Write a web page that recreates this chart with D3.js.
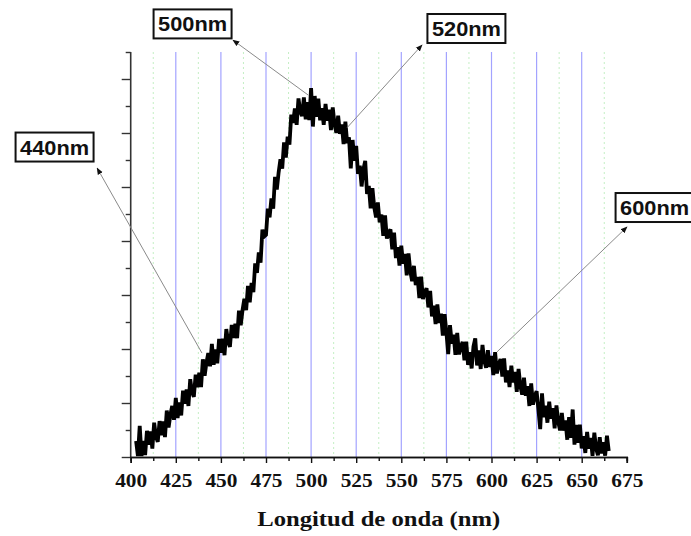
<!DOCTYPE html>
<html>
<head>
<meta charset="utf-8">
<script src="https://cdn.jsdelivr.net/npm/d3@7"></script>
<style>
  html, body { margin: 0; padding: 0; background: #ffffff; }
  svg { display: block; }
</style>
</head>
<body>
<svg id="chart" width="691" height="536"></svg>
<script>
// Emission spectrum: intensity (arb. units) sampled every 1 nm from 403 to 665 nm
const wavelengthStart = 403;
const wavelengthStep = 1;
const intensity = [
  0.59, 0.04, 1.15, 0.04, 0.59, 0.07, 0.97, 0.45,
  0.95, 0.31, 1.27, 0.76, 0.56,
  1.33, 0.81, 1.32, 0.74, 1.72,
  1.09, 1.56, 1.89, 1.38, 2.19,
  1.44, 2.02, 1.54, 2.46, 1.97,
  2.50, 1.89, 2.88, 2.40, 2.23,
  3.05, 2.58, 3.12, 2.59, 3.62,
  3.01, 3.50, 3.85, 3.36, 4.19,
  3.42, 3.98, 3.47, 4.37, 3.86,
  4.38, 3.77, 4.74, 4.26, 4.08,
  4.89, 4.41, 4.94, 4.40, 5.42,
  4.88, 5.44, 5.86, 5.44, 6.34,
  5.73, 6.45, 6.11, 7.17, 6.82,
  7.58, 7.20, 8.42, 8.17, 8.23,
  9.20, 8.88, 9.58, 9.20, 10.38,
  9.91, 10.54, 11.03, 10.68, 11.65,
  11.09, 11.86, 11.57, 12.68, 12.38,
  12.91, 12.30, 13.28, 12.80, 12.63,
  13.32, 12.51, 13.14, 12.48, 13.66,
  12.24, 13.37, 12.60, 13.27, 12.47,
  12.92, 12.30, 13.08, 12.46, 12.86,
  12.11, 12.95, 12.32, 12.01, 12.64,
  11.97, 12.32, 11.59, 12.42, 11.63,
  11.84, 10.69, 11.74, 10.97, 11.52,
  10.49, 10.79, 10.02, 10.66, 10.97,
  9.74, 10.04, 9.21, 9.96, 9.25,
  8.87, 9.43, 8.69, 8.98, 8.19,
  8.95, 8.09, 8.32, 8.43, 7.69,
  8.31, 7.37, 7.77, 7.09, 7.83,
  7.16, 7.52, 6.73, 7.54, 6.88,
  6.51, 7.08, 6.37, 6.67, 5.89,
  6.68, 5.85, 6.11, 6.25, 5.54,
  6.15, 5.21, 5.60, 4.92, 5.65,
  4.97, 5.31, 4.50, 5.29, 4.62,
  3.81, 4.88, 4.20, 4.53, 3.78,
  4.60, 3.80, 4.09, 4.26, 3.58,
  4.27, 3.41, 3.88, 3.28, 4.09,
  4.39, 3.39, 3.95, 3.26, 4.15,
  3.57, 3.30, 3.96, 3.34, 3.74,
  3.03, 3.88, 3.10, 3.43, 3.63,
  2.98, 3.65, 2.76, 3.21, 2.59,
  3.38, 2.76, 3.15, 2.41, 3.26,
  2.63, 2.31, 2.94, 2.27, 2.62,
  1.89, 2.73, 1.94, 2.26, 2.44,
  1.77, 1.03, 2.36, 1.47, 1.90,
  1.27, 2.05, 1.42, 1.81, 1.06,
  1.91, 1.30, 0.99, 1.63, 0.98,
  1.35, 0.64, 1.48, 0.71, 1.76,
  0.46, 1.19, 0.53, 1.20, 0.32,
  0.77, 0.15, 0.93, 0.31, 0.71,
  0.04, 0.90, 0.32, 0.06, 0.73,
  0.13, 0.55, 0.05, 0.79, 0.22
];

// Axis ticks
const xMajorTicks = [400, 425, 450, 475, 500, 525, 550, 575, 600, 625, 650, 675];
const xMinorTicks = [412.5, 437.5, 462.5, 487.5, 512.5, 537.5, 562.5, 587.5, 612.5, 637.5, 662.5];
const xGridMajor = [425, 450, 475, 500, 525, 550, 575, 600, 625, 650];
const yMajorTicks = [0, 2, 4, 6, 8, 10, 12, 14];
const yMinorTicks = [1, 3, 5, 7, 9, 11, 13, 15];
const xTitle = "Longitud de onda (nm)";

// Callout labels: text, point on the curve, label-box centre, arrow tip (all in data units)
const calloutText = ["440nm", "500nm", "520nm", "600nm"];
const calloutPointNm = [439.5, 498.5, 520, 603];
const calloutPointI = [3.85, 13.4, 12.2, 3.89];
const calloutBoxNm = [357.8, 434.3, 586.1, 690.4];
const calloutBoxI = [11.48, 16.04, 15.87, 9.24];
const calloutTipNm = [381.4, 456.7, 561.5, 675.1];
const calloutTipI = [10.70, 15.44, 15.26, 8.52];

const spectrum = intensity.map((v, i) => ({ nm: wavelengthStart + i * wavelengthStep, v }));

const svg = d3.select("#chart");
const x = d3.scaleLinear().domain([400, 675]).range([130.7, 626.8]);
const y = d3.scaleLinear().domain([0, 15]).range([457, 52]);
const serif = "'Liberation Serif', 'Times New Roman', serif";
const sans = "'Liberation Sans', Arial, sans-serif";

// Vertical grid: solid blue at major steps, dotted green at minor steps
const grid = svg.append("g");
grid.selectAll("line.minor").data(xMinorTicks).join("line")
  .attr("class", "minor")
  .attr("x1", d => x(d)).attr("x2", d => x(d))
  .attr("y1", y(15)).attr("y2", y(0))
  .attr("stroke", "#c4efc4").attr("stroke-width", 1)
  .attr("stroke-dasharray", "2,3");
grid.selectAll("line.major").data(xGridMajor).join("line")
  .attr("class", "major")
  .attr("x1", d => x(d)).attr("x2", d => x(d))
  .attr("y1", y(15)).attr("y2", y(0))
  .attr("stroke", "#a3a3ff").attr("stroke-width", 1.2);

// Spectrum trace
svg.append("path")
  .datum(spectrum)
  .attr("fill", "none")
  .attr("stroke", "#000")
  .attr("stroke-width", 3.8)
  .attr("stroke-linejoin", "miter")
  .attr("stroke-miterlimit", 3)
  .attr("d", d3.line().x(d => x(d.nm)).y(d => y(d.v)));

// Y axis (no labels)
const yAxisG = svg.append("g").attr("transform", `translate(${x(400)},0)`);
yAxisG.call(d3.axisLeft(y).tickValues(yMajorTicks).tickSize(9).tickFormat(""));
yAxisG.append("g").call(d3.axisLeft(y).tickValues(yMinorTicks).tickSize(5).tickFormat(""));
yAxisG.selectAll(".domain").remove();
yAxisG.append("line").attr("y1", y(15)).attr("y2", y(0))
  .attr("stroke", "#333").attr("stroke-width", 1.6);
yAxisG.selectAll(".tick line").attr("stroke", "#333").attr("stroke-width", 1.4);

// X axis
const xAxisG = svg.append("g").attr("transform", `translate(0,${y(0)})`);
xAxisG.call(d3.axisBottom(x).tickValues(xMajorTicks).tickSize(6).tickFormat(d3.format("d")));
xAxisG.append("g").call(d3.axisBottom(x).tickValues(xMinorTicks).tickSize(4).tickFormat(""));
xAxisG.selectAll(".domain").attr("stroke", "#111").attr("stroke-width", 1.6);
xAxisG.selectAll(".tick line").attr("stroke", "#111").attr("stroke-width", 1.4);
xAxisG.selectAll(".tick text")
  .attr("y", 30).attr("dy", 0)
  .attr("font-family", serif).attr("font-weight", "bold").attr("font-size", 19)
  .attr("fill", "#111")
  .attr("textLength", 32).attr("lengthAdjust", "spacingAndGlyphs");

svg.append("text")
  .attr("x", (x(400) + x(675)) / 2).attr("y", 526)
  .attr("text-anchor", "middle")
  .attr("font-family", serif).attr("font-weight", "bold").attr("font-size", 21)
  .attr("fill", "#111")
  .attr("textLength", 243).attr("lengthAdjust", "spacingAndGlyphs")
  .text(xTitle);

// Callouts
const defs = svg.append("defs");
defs.append("marker")
  .attr("id", "tip").attr("viewBox", "0 0 10 10")
  .attr("refX", 9).attr("refY", 5)
  .attr("markerWidth", 7).attr("markerHeight", 7)
  .attr("markerUnits", "userSpaceOnUse")
  .attr("orient", "auto")
  .append("path").attr("d", "M0,1 L10,5 L0,9 Z").attr("fill", "#111");

const callouts = calloutText.map((t, i) => ({
  t, px: calloutPointNm[i], py: calloutPointI[i],
  bx: calloutBoxNm[i], by: calloutBoxI[i],
  tx: calloutTipNm[i], ty: calloutTipI[i]
}));

svg.append("g").selectAll("line").data(callouts).join("line")
  .attr("x1", d => x(d.px)).attr("y1", d => y(d.py))
  .attr("x2", d => x(d.tx)).attr("y2", d => y(d.ty))
  .attr("stroke", "#8a8a8a").attr("stroke-width", 1)
  .attr("marker-end", "url(#tip)");

const boxes = svg.append("g").selectAll("g").data(callouts).join("g")
  .attr("transform", d => `translate(${x(d.bx)},${y(d.by)})`);
boxes.append("rect")
  .attr("x", -39).attr("y", -14.5).attr("width", 78).attr("height", 29)
  .attr("fill", "#fff").attr("stroke", "#111").attr("stroke-width", 2);
boxes.append("text")
  .attr("text-anchor", "middle").attr("y", 7.5)
  .attr("font-family", sans).attr("font-weight", "bold").attr("font-size", 20)
  .attr("fill", "#111")
  .attr("textLength", 69).attr("lengthAdjust", "spacingAndGlyphs")
  .text(d => d.t);
</script>
</body>
</html>
